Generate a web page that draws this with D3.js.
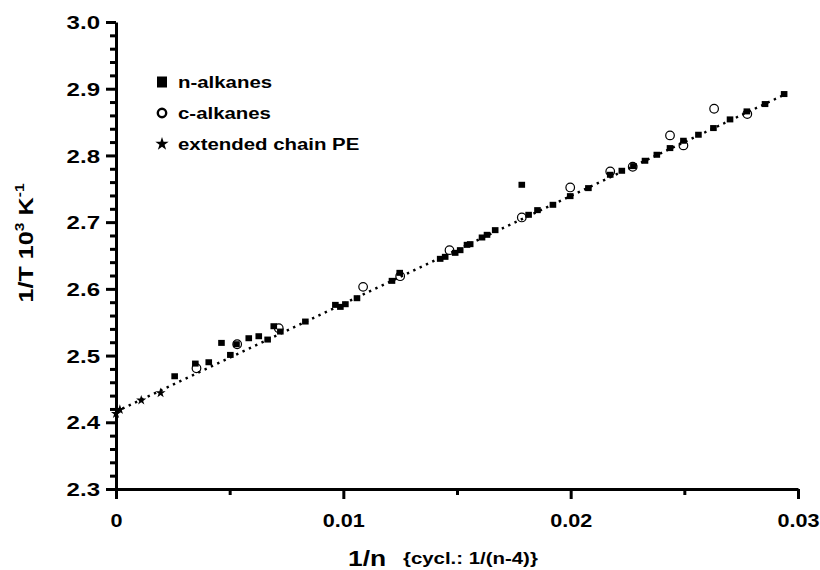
<!DOCTYPE html>
<html>
<head>
<meta charset="utf-8">
<script src="https://cdn.jsdelivr.net/npm/d3@7"></script>
<style>
  body { margin: 0; background: #fff; }
  svg { display: block; }
  text { font-family: "Liberation Sans", Arial, sans-serif; font-weight: bold; fill: #000; }
</style>
</head>
<body>
<svg id="chart"></svg>
<script>
// n-alkanes [1/n, 1/T * 10^3]
const nAlkanes = [
  [0.00258, 2.469], [0.00349, 2.488], [0.00408, 2.490], [0.00464, 2.519],
  [0.00503, 2.501], [0.00530, 2.517], [0.00584, 2.526], [0.00628, 2.529],
  [0.00667, 2.524], [0.00694, 2.544], [0.00723, 2.536], [0.00833, 2.551],
  [0.00965, 2.576], [0.00987, 2.573], [0.01009, 2.577], [0.01060, 2.586],
  [0.01214, 2.612], [0.01248, 2.624], [0.01426, 2.645], [0.01448, 2.648],
  [0.01492, 2.654], [0.01514, 2.658], [0.01544, 2.666], [0.01558, 2.667],
  [0.01610, 2.677], [0.01632, 2.681], [0.01668, 2.688], [0.01785, 2.756],
  [0.01815, 2.711], [0.01854, 2.718], [0.01922, 2.726], [0.01998, 2.739],
  [0.02078, 2.751], [0.02174, 2.771], [0.02225, 2.777], [0.02276, 2.784],
  [0.02327, 2.792], [0.02379, 2.801], [0.02437, 2.811], [0.02496, 2.822],
  [0.02562, 2.831], [0.02628, 2.841], [0.02701, 2.854], [0.02775, 2.866],
  [0.02855, 2.877], [0.02939, 2.892]
];

// c-alkanes [1/(n-4), 1/T * 10^3]
const cAlkanes = [
  [0.00354, 2.481], [0.00533, 2.517], [0.00716, 2.541], [0.01087, 2.603],
  [0.01250, 2.619], [0.01467, 2.658], [0.01785, 2.707], [0.01998, 2.752],
  [0.02174, 2.776], [0.02273, 2.783], [0.02437, 2.830], [0.02496, 2.815],
  [0.02631, 2.870], [0.02777, 2.862]
];

// extended chain PE
const extendedPE = [
  [0.00000, 2.413], [0.00017, 2.419], [0.00111, 2.433], [0.00196, 2.444]
];

// dotted fit line end points
const fitLine = [[0, 2.416], [0.0294, 2.891]];

const xTickValues = [0, 0.01, 0.02, 0.03];
const xTickLabels = ["0", "0.01", "0.02", "0.03"];
const xMinorTicks = [0.005, 0.015, 0.025];
const yTickValues = [2.3, 2.4, 2.5, 2.6, 2.7, 2.8, 2.9, 3.0];
const yTickLabels = ["2.3", "2.4", "2.5", "2.6", "2.7", "2.8", "2.9", "3.0"];
const yMinorTicks = [
  2.32, 2.34, 2.36, 2.38, 2.42, 2.44, 2.46, 2.48, 2.52, 2.54, 2.56, 2.58,
  2.62, 2.64, 2.66, 2.68, 2.72, 2.74, 2.76, 2.78, 2.82, 2.84, 2.86, 2.88,
  2.92, 2.94, 2.96, 2.98
];

const legendItems = ["n-alkanes", "c-alkanes", "extended chain PE"];

const width = 820, height = 570;
const SX = 1.2; // text is drawn a little wider than the font

const svg = d3.select("#chart").attr("width", width).attr("height", height);

const x = d3.scaleLinear().domain([0, 0.03]).range([116, 798]);
const y = d3.scaleLinear().domain([2.3, 3.0]).range([489, 22]);

// Fit line
svg.append("path")
  .datum(fitLine)
  .attr("d", d3.line().x(d => x(d[0])).y(d => y(d[1])))
  .attr("fill", "none")
  .attr("stroke", "#000")
  .attr("stroke-width", 2.4)
  .attr("stroke-dasharray", "2.4 4.6");

// Points
svg.append("g").selectAll("rect")
  .data(nAlkanes)
  .join("rect")
  .attr("x", d => x(d[0]) - 3.3)
  .attr("y", d => y(d[1]) - 3)
  .attr("width", 6.6)
  .attr("height", 6)
  .attr("fill", "#000");

svg.append("g").selectAll("circle")
  .data(cAlkanes)
  .join("circle")
  .attr("cx", d => x(d[0]))
  .attr("cy", d => y(d[1]))
  .attr("r", 4.3)
  .attr("fill", "none")
  .attr("stroke", "#000")
  .attr("stroke-width", 1.2);

const star = d3.symbol().type(d3.symbolStar).size(32);
svg.append("g").selectAll("path")
  .data(extendedPE)
  .join("path")
  .attr("transform", d => `translate(${x(d[0])},${y(d[1])})`)
  .attr("d", star)
  .attr("fill", "#000");

// Legend
const legend = svg.append("g").attr("transform", "translate(162,0)");
const legendY = [82, 113, 144];
legend.append("rect").attr("x", -5).attr("y", legendY[0] - 5.5).attr("width", 10).attr("height", 11).attr("fill", "#000");
legend.append("circle").attr("cx", 0).attr("cy", legendY[1]).attr("r", 4.2)
  .attr("fill", "none").attr("stroke", "#000").attr("stroke-width", 2.4);
legend.append("path").attr("transform", `translate(0,${legendY[2]})`)
  .attr("d", d3.symbol().type(d3.symbolStar).size(55)).attr("fill", "#000");
legend.selectAll("text")
  .data(legendItems)
  .join("text")
  .attr("transform", (d, i) => `translate(16,${legendY[i] + 6}) scale(${SX},1)`)
  .style("font-size", "17px")
  .text(d => d);

// Axis titles
const yTitle = svg.append("text")
  .attr("transform", `translate(33,243) rotate(-90) scale(${SX},1)`)
  .attr("text-anchor", "middle")
  .style("font-size", "21px");
yTitle.append("tspan").text("1/T 10");
yTitle.append("tspan").attr("dy", -9).style("font-size", "13px").text("3");
yTitle.append("tspan").attr("dy", 9).text(" K");
yTitle.append("tspan").attr("dy", -9).style("font-size", "13px").text("-1");

svg.append("text")
  .attr("transform", `translate(348,566) scale(${SX},1)`)
  .style("font-size", "22px")
  .text("1/n");
svg.append("text")
  .attr("transform", `translate(403,564) scale(${SX},1)`)
  .style("font-size", "17px")
  .text("{cycl.: 1/(n-4)}");

// Axes, drawn last so nothing sits over them
function styleAxis(g) {
  g.selectAll(".domain").attr("stroke", "#000").attr("stroke-width", 3);
  g.selectAll(".tick line").attr("stroke", "#000").attr("stroke-width", 3);
}

svg.append("g")
  .attr("transform", `translate(0,${y(2.3)})`)
  .call(d3.axisBottom(x).tickValues(xMinorTicks).tickSize(6).tickSizeOuter(0).tickFormat(""))
  .call(g => g.select(".domain").remove())
  .call(styleAxis);

svg.append("g")
  .attr("transform", `translate(${x(0)},0)`)
  .call(d3.axisLeft(y).tickValues(yMinorTicks).tickSize(6).tickSizeOuter(0).tickFormat(""))
  .call(g => g.select(".domain").remove())
  .call(styleAxis);

const xAxis = svg.append("g")
  .attr("transform", `translate(0,${y(2.3)})`)
  .call(d3.axisBottom(x).tickValues(xTickValues).tickSize(10).tickSizeOuter(0)
    .tickFormat((d, i) => xTickLabels[i]))
  .call(styleAxis);
xAxis.selectAll("text")
  .attr("y", 38).attr("dy", null)
  .attr("transform", `scale(${SX},1)`)
  .style("font-size", "18px");

const yAxis = svg.append("g")
  .attr("transform", `translate(${x(0)},0)`)
  .call(d3.axisLeft(y).tickValues(yTickValues).tickSize(10).tickSizeOuter(0)
    .tickFormat((d, i) => yTickLabels[i]))
  .call(styleAxis);
yAxis.selectAll("text")
  .attr("x", -16 / 1.3).attr("dy", "0.36em")
  .attr("transform", "scale(1.3,1)")
  .style("font-size", "18.5px");
</script>
</body>
</html>
